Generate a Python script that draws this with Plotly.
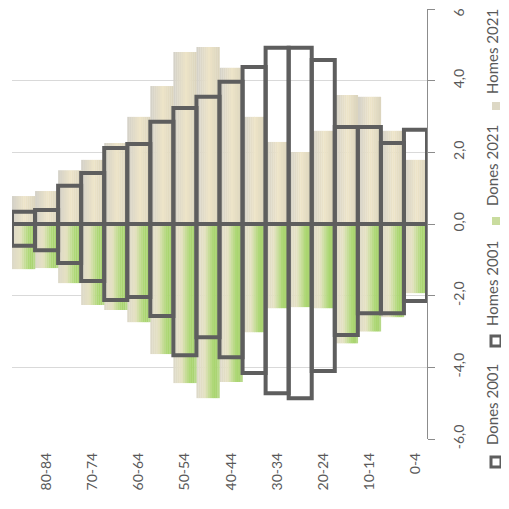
import plotly.graph_objects as go

# ---- data (percent of population) ----
ages = ["85+", "80-84", "75-79", "70-74", "65-69", "60-64", "55-59", "50-54", "45-49",
        "40-44", "35-39", "30-34", "25-29", "20-24", "15-19", "10-14", "5-9", "0-4"]
homes_2021 = [0.78, 0.92, 1.50, 1.79, 2.26, 2.99, 3.85, 4.80, 4.94,
              4.36, 2.99, 2.29, 2.01, 2.60, 3.60, 3.55, 2.60, 1.79]
dones_2021 = [-1.26, -1.23, -1.65, -2.26, -2.40, -2.74, -3.63, -4.44, -4.86,
              -4.41, -3.02, -2.35, -2.32, -2.35, -3.33, -3.00, -2.60, -1.93]
homes_2001 = [0.34, 0.39, 1.07, 1.42, 2.12, 2.23, 2.85, 3.24, 3.55,
              3.97, 4.38, 4.92, 4.92, 4.58, 2.71, 2.71, 2.26, 2.63]
dones_2001 = [-0.61, -0.73, -1.09, -1.59, -2.12, -2.04, -2.57, -3.66, -3.16,
              -3.72, -4.16, -4.72, -4.86, -4.10, -3.10, -2.49, -2.49, -2.15]
y_ticks = [-6, -4, -2, 0, 2, 4, 6]
y_tick_text = ["-6,0", "-4,0", "-2,0", "0,0", "2,0", "4,0", "6,0"]
shown_labels = ["80-84", "70-74", "60-64", "50-54", "40-44", "30-34", "20-24", "10-14", "0-4"]

# ---- style helpers ----
def hex2rgb(h):
    h = h.lstrip("#")
    return tuple(int(h[i:i + 2], 16) for i in (0, 2, 4))

def grad(stops, t):
    for (t0, c0), (t1, c1) in zip(stops, stops[1:]):
        if t0 <= t <= t1:
            f = (t - t0) / (t1 - t0) if t1 > t0 else 0
            a, b = hex2rgb(c0), hex2rgb(c1)
            return "rgb(%d,%d,%d)" % tuple(round(a[k] + (b[k] - a[k]) * f) for k in range(3))
    return stops[-1][1]

homes_stops = [(0, "#d3d0c8"), (0.55, "#ede4c8"), (1, "#dad3bd")]
dones_stops = [(0, "#dcd8c9"), (0.35, "#e6e2c3"), (0.7, "#b0d879"), (0.85, "#a6d36b"), (1, "#bddb94")]

N = 12
xs = list(range(len(ages)))
fig = go.Figure()

for values, stops in ((homes_2021, homes_stops), (dones_2021, dones_stops)):
    for i in range(N):
        fig.add_trace(go.Bar(
            x=xs, y=values, width=1.0 / N + 0.01, offset=-0.5 + i / N,
            marker=dict(color=grad(stops, (i + 0.5) / N), line=dict(width=0)),
            showlegend=False, hoverinfo="skip"))

for values in (homes_2001, dones_2001):
    fig.add_trace(go.Bar(
        x=xs, y=values, width=1.0, offset=-0.5,
        marker=dict(color="rgba(0,0,0,0)", line=dict(color="#5e5e5e", width=4)),
        showlegend=False, hoverinfo="skip"))

# ---- layout (page has an 8px body margin) ----
OFF = 8
W = H = 501
L, R, T, B = 12 - OFF, 82, 9 - OFF, 70
pw, ph = W - L - R, H - T - B

def px(xpage):
    return (xpage - OFF - L) / pw

def py(ypage):
    return (H - B - (ypage - OFF)) / ph

font = "Lato"
txt = "#595959"

fig.update_layout(
    width=W, height=H, barmode="overlay",
    paper_bgcolor="white", plot_bgcolor="white",
    margin=dict(l=L, r=R, t=T, b=B, autoexpand=False), showlegend=False,
    font=dict(family=font, color=txt, size=13),
    xaxis=dict(range=[-0.5, len(ages) - 0.5], showgrid=False, zeroline=False,
               automargin=False,
               tickmode="array", tickvals=[ages.index(a) for a in shown_labels],
               ticktext=shown_labels, tickangle=-90, ticks="",
               tickfont=dict(family=font, size=14, color=txt), ticklabelstandoff=10),
    yaxis=dict(range=[-6, 6], side="right", tickmode="array", tickvals=y_ticks,
               ticktext=y_tick_text, automargin=False, ticklabeloverflow="allow",
               tickangle=-90, ticks="outside", ticklen=7,
               tickcolor="#8c8c8c", showline=True, linecolor="#8c8c8c", linewidth=1,
               gridcolor="#d9d9d9", gridwidth=1, zeroline=False,
               tickfont=dict(family=font, size=14, color=txt), ticklabelstandoff=12),
)

# ---- rotated legend ----
LX_TEXT = 492
LX_ICON = 496
legend = [("Homes 2021", 52, 106, "fill", "#ddd8c5"),
          ("Dones 2021", 166, 221, "fill", "#c9dc9e"),
          ("Homes 2001", 284, 341, "box", None),
          ("Dones 2001", 405, 462, "box", None)]
for label, ty, iy, kind, col in legend:
    fig.add_annotation(text=label, x=px(LX_TEXT), y=py(ty), xref="paper", yref="paper",
                       textangle=-90, showarrow=False, xanchor="center", yanchor="middle",
                       font=dict(family=font, size=15, color=txt))
    if kind == "fill":
        s = 4
        fig.add_shape(type="rect", xref="paper", yref="paper",
                      x0=px(LX_ICON - s), x1=px(LX_ICON + s), y0=py(iy - s), y1=py(iy + s),
                      fillcolor=col, line=dict(width=0))
    else:
        s = 5
        fig.add_shape(type="rect", xref="paper", yref="paper",
                      x0=px(LX_ICON - s), x1=px(LX_ICON + s), y0=py(iy - s), y1=py(iy + s),
                      fillcolor="white", line=dict(color="#5e5e5e", width=3))

fig.write_html("out.html")
